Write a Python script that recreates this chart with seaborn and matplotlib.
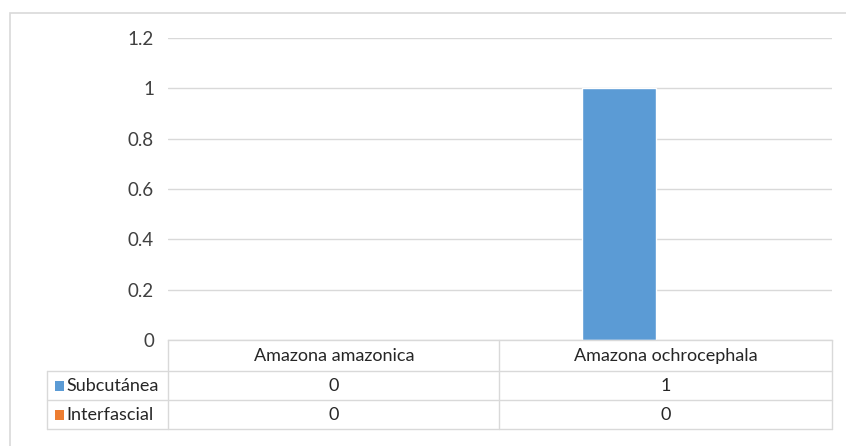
import matplotlib
matplotlib.use("Agg")
import matplotlib.pyplot as plt
import matplotlib.transforms as mtransforms
from matplotlib.lines import Line2D
from matplotlib.patches import Rectangle
import seaborn as sns
import pandas as pd

categories = ["Amazona amazonica", "Amazona ochrocephala"]
series_names = ["Subcutánea", "Interfascial"]
subcutanea = [0, 1]
interfascial = [0, 0]
colors = ["#5B9BD5", "#ED7D31"]
yticks = [0, 0.2, 0.4, 0.6, 0.8, 1.0, 1.2]

sns.set_theme(style="white")
plt.rcParams["font.family"] = ["Lato", "DejaVu Sans"]

rows = []
for name, vals in zip(series_names, [subcutanea, interfascial]):
    for c, v in zip(categories, vals):
        rows.append({"cat": c, "series": name, "val": v})
df = pd.DataFrame(rows)

W, H = 846, 446
fig = plt.figure(figsize=(W / 100, H / 100), dpi=100)
fig.patch.set_facecolor("white")

def fx(px):
    return px / W

def fy(py):
    return 1 - py / H

FS = 13
ax = fig.add_axes([fx(168), fy(340), fx(832) - fx(168), fy(38) - fy(340)])
sns.barplot(data=df, x="cat", y="val", hue="series", order=categories,
            hue_order=series_names, palette=colors, width=0.57, gap=0.22,
            saturation=1, legend=False, ax=ax)
ax.set_xlim(-0.5, 1.5)
ax.set_ylim(0, 1.2)
ax.set_yticks(yticks)
ax.set_yticklabels([f"{t:g}" for t in yticks], fontsize=13.5, color="#404040")
ax.tick_params(axis="y", length=0, pad=10)
ax.set_xticks([])
ax.set_xlabel("")
ax.set_ylabel("")
ax.grid(axis="y", color="#d9d9d9", lw=1)
ax.set_axisbelow(True)
for s in ["top", "right", "left"]:
    ax.spines[s].set_visible(False)
ax.spines["bottom"].set_color("#d9d9d9")
ax.spines["bottom"].set_linewidth(1)

lc = "#d9d9d9"

def hline(x0, x1, y):
    fig.add_artist(Line2D([fx(x0), fx(x1)], [fy(y), fy(y)], color=lc, lw=1))

def vline(x, y0, y1):
    fig.add_artist(Line2D([fx(x), fx(x)], [fy(y0), fy(y1)], color=lc, lw=1))

hline(47, 832, 371)
hline(47, 832, 400)
hline(47, 832, 429)
vline(168, 340, 429)
vline(499, 340, 429)
vline(832, 340, 429)
vline(47, 371, 429)

blend = mtransforms.blended_transform_factory(ax.transData, fig.transFigure)
tc = "#262626"
for i, c in enumerate(categories):
    fig.text(i, fy(356), c, transform=blend, ha="center", va="center",
             fontsize=FS, color=tc)
    fig.text(i, fy(386), f"{subcutanea[i]:g}", transform=blend, ha="center",
             va="center", fontsize=FS, color=tc)
    fig.text(i, fy(415), f"{interfascial[i]:g}", transform=blend, ha="center",
             va="center", fontsize=FS, color=tc)

for name, col, y in zip(series_names, colors, [386, 415]):
    fig.add_artist(Rectangle((fx(55), fy(y + 5)), fx(9), fy(y - 5) - fy(y + 5),
                             facecolor=col, edgecolor="none"))
    fig.text(fx(66), fy(y), name, ha="left", va="center", fontsize=FS, color=tc)

# outer border
fig.add_artist(Rectangle((fx(10), fy(452)), fx(850) - fx(10), fy(13) - fy(452),
                         facecolor="none", edgecolor=lc, lw=1.2))

fig.savefig("out.png", dpi=100)
